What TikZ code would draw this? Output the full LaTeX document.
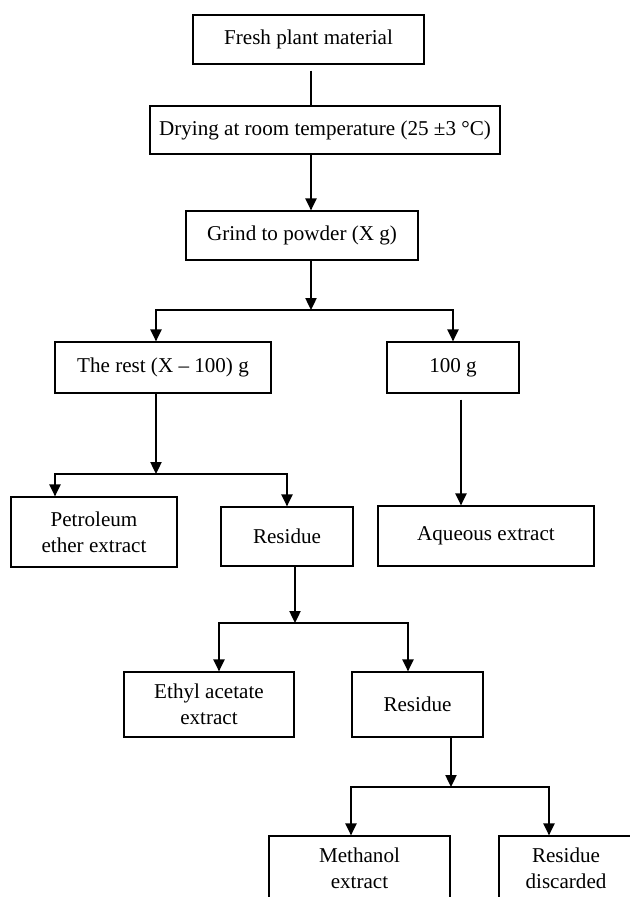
\documentclass[tikz,border=0pt]{standalone}
\usepackage{fontspec}
\setmainfont{Liberation Serif}
\usetikzlibrary{arrows.meta, calc, positioning}

\begin{document}
\begin{tikzpicture}[x=0.025cm, y=-0.025cm,
    box/.style={draw, line width=0.9pt, align=center, inner sep=0pt,
        font=\fontsize{15}{18.5}\selectfont},
    link/.style={line width=1.2pt},
    arr/.style={line width=1.2pt, -{Triangle[length=3mm, width=2.8mm]}}]
    % One drawing unit is one pixel of the page
    \def\px{0.025cm}

    % Fix the page and cut the lowest boxes at its edge
    \useasboundingbox (0,0) rectangle (630,897);
    \clip (0,0) rectangle (630,897);

    % Draw the boxes of the flow
    \node[box, minimum width=231*\px, minimum height=49*\px] (fresh) at (308.5,39.5) {Fresh plant material};
    \node[box, minimum width=350*\px, minimum height=48*\px] (drying) at (325,130) {Drying at room temperature (25 ±3 °C)};
    \node[box, minimum width=232*\px, minimum height=49*\px] (grind) at (302,235.5) {Grind to powder (X g)};
    \node[box, minimum width=216*\px, minimum height=51*\px] (rest) at (163,367.5) {The rest (X – 100) g};
    \node[box, minimum width=132*\px, minimum height=51*\px] (hundred) at (453,367.5) {100 g};
    \node[box, minimum width=166*\px, minimum height=70*\px] (petrol) at (94,532) {Petroleum\\ether extract};
    \node[box, minimum width=132*\px, minimum height=59*\px] (resA) at (287,536.5) {Residue};
    \node[box, minimum width=216*\px, minimum height=60*\px] (aqueous) at (486,536) {Aqueous extract};
    \node[box, minimum width=170*\px, minimum height=65*\px] (ethyl) at (209,704.5) {Ethyl acetate\\extract};
    \node[box, minimum width=131*\px, minimum height=65*\px] (resB) at (417.5,704.5) {Residue};
    \node[box, minimum width=181*\px, minimum height=64*\px] (meth) at (359.5,868) {Methanol\\extract};
    \node[box, minimum width=134*\px, minimum height=64*\px] (disc) at (566,868) {Residue\\discarded};

    % Split points of the branches
    \coordinate (s1) at (311,310);
    \coordinate (s2) at (156,474);
    \coordinate (s3) at (295,623);
    \coordinate (s4) at (451,787);

    % Draw the main line down to the first split
    \draw[link] ($(fresh.south -| s1)+(0,6)$) -- (drying.north -| s1);
    \draw[arr] (drying.south -| s1) -- (grind.north -| s1);
    \draw[arr] (grind.south -| s1) -- (s1);
    \draw[arr] (s1) -| ($(rest.north)+(-7,0)$);
    \draw[arr] (s1) -| (hundred.north);

    % Draw the left branch
    \draw[arr] (rest.south -| s2) -- (s2);
    \draw[arr] (s2) -| ($(petrol.north)+(-39,0)$);
    \draw[arr] (s2) -| (resA.north);

    % Draw the right branch
    \draw[arr] ($(hundred.south)+(8,6)$) -- ($(aqueous.north)+(-25,0)$);

    % Draw the second residue split
    \draw[arr] (resA.south -| s3) -- (s3);
    \draw[arr] (s3) -| ($(ethyl.north)+(10,0)$);
    \draw[arr] (s3) -| ($(resB.north)+(-9.5,0)$);

    % Draw the last split
    \draw[arr] (resB.south -| s4) -- (s4);
    \draw[arr] (s4) -| ($(meth.north)+(-8.5,0)$);
    \draw[arr] (s4) -| ($(disc.north)+(-17,0)$);
\end{tikzpicture}
\end{document}
